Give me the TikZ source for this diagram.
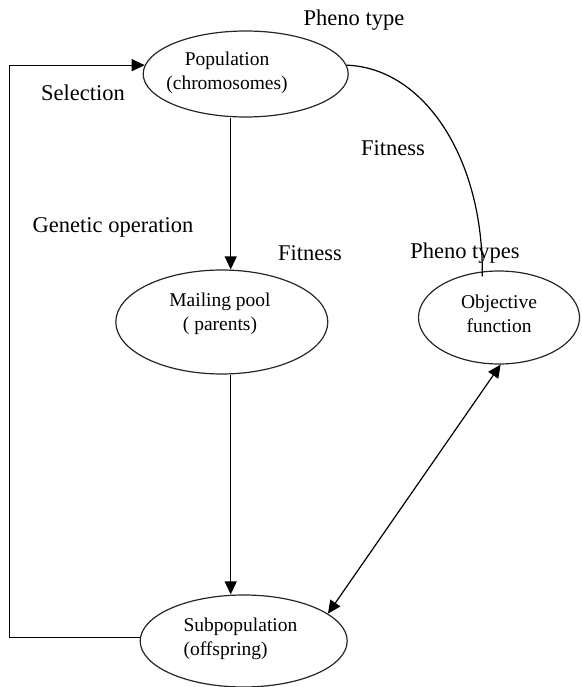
\documentclass[tikz,border=0pt]{standalone}
\usepackage{fontspec}
\setmainfont{Liberation Serif}
\usetikzlibrary{shapes.geometric,arrows.meta,calc}
\begin{document}
\begin{tikzpicture}[x=1pt,y=-1pt,
  line width=1.2pt,
  oval/.style={draw=black!85,ellipse,inner sep=0pt},
  lbl/.style={font=\fontsize{22.5}{27}\selectfont,inner sep=0pt},
  intxt/.style={font=\fontsize{19.5}{24}\selectfont,align=center,inner sep=0pt},
  arr/.style={-{Triangle[length=13pt,width=12pt]}},
  arrb/.style={{Triangle[length=13pt,width=12pt]}-{Triangle[length=13pt,width=12pt]}}]
\path[use as bounding box] (0,0) rectangle (581,687);
% ellipses
\node[oval,minimum width=205pt,minimum height=86pt] (pop) at (245.7,74) {};
\node[oval,minimum width=212pt,minimum height=104pt] (mail) at (221.8,322) {};
\node[oval,minimum width=161pt,minimum height=93pt] (obj) at (499,317.5) {};
\node[oval,minimum width=207pt,minimum height=92pt] (sub) at (243.7,641) {};
% texts inside
\node[intxt] (popt) at (227,72.5) {Population\\(chromosomes)};
\node[intxt] (mailt) at (220,314) {Mailing pool\\( parents)};
\node[intxt] (objt) at (499,313.5) {Objective\\function};
\node[intxt,align=left,anchor=west] (subt) at (183,638.5) {Subpopulation\\(offspring)};
% labels
\node[lbl] (l1) at (354,20) {Pheno type};
\node[lbl] (l2) at (83,93) {Selection};
\node[lbl] (l3) at (393,148) {Fitness};
\node[lbl] (l4) at (113,227) {Genetic operation};
\node[lbl] (l5) at (310,253) {Fitness};
\node[lbl] (l6) at (465,253) {Pheno types};
% connectors
\coordinate (vx) at (230.7,0);
\coordinate (lx) at (9.3,300);
\draw[arr] (pop.south -| vx) -- (mail.north -| vx);
\draw[arr] (mail.south -| vx) -- (sub.north -| vx);
\draw[arr] (sub.178) -| (lx) |- (pop.175);
\draw (pop.5) .. controls (425,68) and (484,160) .. ($(obj.110)+(0,5)$);
\draw[arrb] (obj.272) -- (sub.18);
\end{tikzpicture}
\end{document}
